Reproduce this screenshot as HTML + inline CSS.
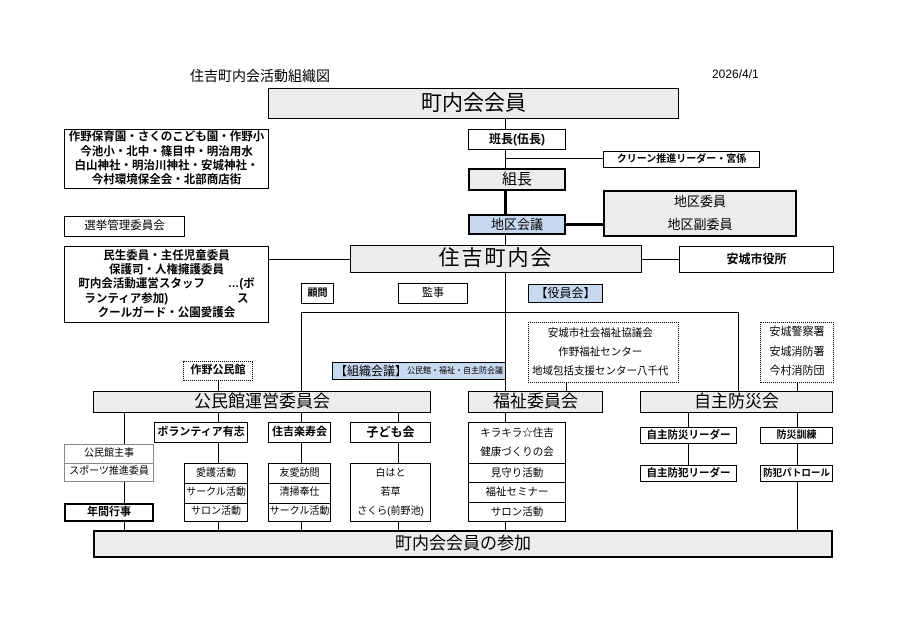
<!DOCTYPE html>
<html><head><meta charset="utf-8"><style>
body{margin:0;background:#fff;}
#c{position:relative;width:900px;height:636px;overflow:hidden;font-family:"Liberation Sans","Noto Sans CJK JP",sans-serif;color:#000;}
.b{position:absolute;box-sizing:border-box;border:1.6px solid #000;background:#fff;display:flex;align-items:center;justify-content:center;text-align:center;font-size:11px;line-height:1.2;white-space:nowrap;}
.g{background:#ececec;}
.bl{background:#c6d9ef;}
.t{border-width:2.5px;}
.d{border:1.3px dotted #000;}
.h{position:absolute;background:#000;height:1.3px;}
.v{position:absolute;background:#000;width:1.3px;}
.col{flex-direction:column;}
.row{width:100%;box-sizing:border-box;display:flex;align-items:center;justify-content:center;border-top:1px solid #000;}
.row:first-child{border-top:none;}
.tx{position:absolute;font-size:12px;white-space:nowrap;}
</style></head><body><div id="c">
<div class="tx" style="left:190px;top:66px;font-size:14px;">住吉町内会活動組織図</div>
<div class="tx" style="left:712px;top:67px;font-size:12px;">2026/4/1</div>

<div class="v" style="left:505px;top:118px;height:273px;"></div>
<div class="h" style="left:505px;top:158px;width:98px;"></div>
<div class="h" style="left:566px;top:223px;width:37px;height:3px;"></div>
<div class="v" style="left:504px;top:190px;height:24px;width:2.5px;"></div>
<div class="h" style="left:269px;top:259px;width:81px;"></div>
<div class="h" style="left:642px;top:259px;width:37px;"></div>
<div class="h" style="left:301px;top:312px;width:437px;"></div>
<div class="v" style="left:301px;top:312px;height:79px;"></div>
<div class="v" style="left:738px;top:312px;height:79px;"></div>
<div class="v" style="left:566px;top:383px;height:8px;"></div>
<div class="v" style="left:797px;top:383px;height:147px;"></div>
<div class="v" style="left:218px;top:381px;height:10px;"></div>
<div class="v" style="left:688px;top:413px;height:52px;"></div>
<div class="v" style="left:124px;top:413px;height:117px;"></div>
<div class="v" style="left:218px;top:413px;height:117px;"></div>
<div class="v" style="left:301px;top:413px;height:117px;"></div>
<div class="v" style="left:398px;top:413px;height:117px;"></div>
<div class="v" style="left:505px;top:413px;height:117px;"></div>

<div class="b g" style="left:268px;top:88px;width:411px;height:31px;font-size:21px;">町内会会員</div>
<div class="b" style="left:64px;top:129px;width:205px;height:60px;font-size:11.5px;line-height:1.25;font-weight:bold;">作野保育園・さくのこども園・作野小<br>今池小・北中・篠目中・明治用水<br>白山神社・明治川神社・安城神社・<br>今村環境保全会・北部商店街</div>
<div class="b" style="left:468px;top:129px;width:98px;height:21px;font-size:12px;font-weight:bold;">班長(伍長)</div>
<div class="b" style="left:603px;top:151px;width:157px;height:17px;font-size:10px;font-weight:bold;">クリーン推進リーダー・宮係</div>
<div class="b g t" style="left:468px;top:168px;width:98px;height:23px;font-size:15px;">組長</div>
<div class="b g t col" style="left:603px;top:190px;width:194px;height:47px;font-size:13px;line-height:1.7;">地区委員<br>地区副委員</div>
<div class="b bl t" style="left:468px;top:214px;width:98px;height:21px;font-size:13px;">地区会議</div>
<div class="b" style="left:64px;top:216px;width:121px;height:21px;font-size:11.5px;">選挙管理委員会</div>
<div class="b" style="left:64px;top:246px;width:205px;height:77px;font-size:11.5px;line-height:1.25;font-weight:bold;">民生委員・主任児童委員<br>保護司・人権擁護委員<br>町内会活動運営スタッフ　　…(ボ<br>ランティア参加)　　　　　　ス<br>クールガード・公園愛護会</div>
<div class="b g" style="left:350px;top:245px;width:292px;height:28px;font-size:21px;letter-spacing:2px;">住吉町内会</div>
<div class="b" style="left:679px;top:246px;width:155px;height:27px;font-size:12px;font-weight:bold;">安城市役所</div>
<div class="b" style="left:301px;top:283px;width:33px;height:21px;font-size:10px;font-weight:bold;">顧問</div>
<div class="b" style="left:398px;top:283px;width:70px;height:21px;font-size:11px;">監事</div>
<div class="b bl" style="left:528px;top:284px;width:75px;height:19px;font-size:12px;">【役員会】</div>
<div class="b d col" style="left:528px;top:322px;width:151px;height:61px;font-size:10.5px;line-height:1.8;align-items:flex-start;padding-left:3px;">安城市社会福祉協議会<br>作野福祉センター<br>地域包括支援センター八千代</div>
<div class="b d col" style="left:760px;top:322px;width:74px;height:61px;font-size:11px;line-height:1.8;">安城警察署<br>安城消防署<br>今村消防団</div>
<div class="b d" style="left:183px;top:361px;width:70px;height:20px;font-size:11px;font-weight:bold;">作野公民館</div>
<div class="b bl" style="left:332px;top:362px;width:174px;height:18px;font-size:12px;justify-content:flex-start;padding-left:2px;">【組織会議】<span style="font-size:8px;">公民館・福祉・自主防会議</span></div>
<div class="b g" style="left:93px;top:391px;width:338px;height:22px;font-size:17px;">公民館運営委員会</div>
<div class="b g" style="left:468px;top:391px;width:135px;height:22px;font-size:17px;">福祉委員会</div>
<div class="b g" style="left:640px;top:391px;width:193px;height:22px;font-size:17px;">自主防災会</div>

<div class="b" style="left:154px;top:422px;width:94px;height:21px;font-size:11px;font-weight:bold;">ボランティア有志</div>
<div class="b" style="left:268px;top:422px;width:63px;height:21px;font-size:11px;font-weight:bold;">住吉楽寿会</div>
<div class="b" style="left:350px;top:422px;width:81px;height:21px;font-size:12px;font-weight:bold;">子ども会</div>
<div class="b col" style="left:64px;top:444px;width:90px;height:38px;font-size:10px;border-color:#888;border-width:1.3px;">
<div class="row" style="height:19px;border-color:#888;">公民館主事</div><div class="row" style="height:19px;border-color:#888;">スポーツ推進委員</div></div>
<div class="b t" style="left:64px;top:503px;width:90px;height:19px;font-size:11px;font-weight:bold;">年間行事</div>
<div class="b col" style="left:184px;top:463px;width:64px;height:59px;font-size:10px;">
<div class="row" style="height:20px;">愛護活動</div><div class="row" style="height:20px;">サークル活動</div><div class="row" style="height:19px;">サロン活動</div></div>
<div class="b col" style="left:268px;top:463px;width:63px;height:59px;font-size:10px;">
<div class="row" style="height:20px;">友愛訪問</div><div class="row" style="height:20px;">清掃奉仕</div><div class="row" style="height:19px;">サークル活動</div></div>
<div class="b col" style="left:350px;top:463px;width:81px;height:59px;font-size:10px;line-height:1.9;">白はと<br>若草<br>さくら(前野池)</div>
<div class="b col" style="left:468px;top:422px;width:98px;height:100px;font-size:10.5px;">
<div class="row" style="height:40px;flex-direction:column;line-height:1.8;">キラキラ☆住吉<br>健康づくりの会</div>
<div class="row" style="height:20px;">見守り活動</div><div class="row" style="height:20px;">福祉セミナー</div><div class="row" style="height:19px;">サロン活動</div></div>
<div class="b" style="left:640px;top:427px;width:97px;height:17px;font-size:10.5px;font-weight:bold;">自主防災リーダー</div>
<div class="b" style="left:640px;top:465px;width:97px;height:17px;font-size:10.5px;font-weight:bold;">自主防犯リーダー</div>
<div class="b" style="left:760px;top:427px;width:73px;height:17px;font-size:10px;font-weight:bold;">防災訓練</div>
<div class="b" style="left:760px;top:465px;width:73px;height:17px;font-size:9.5px;font-weight:bold;">防犯パトロール</div>
<div class="b g t" style="left:93px;top:530px;width:740px;height:28px;font-size:17px;">町内会会員の参加</div>
</div></body></html>
